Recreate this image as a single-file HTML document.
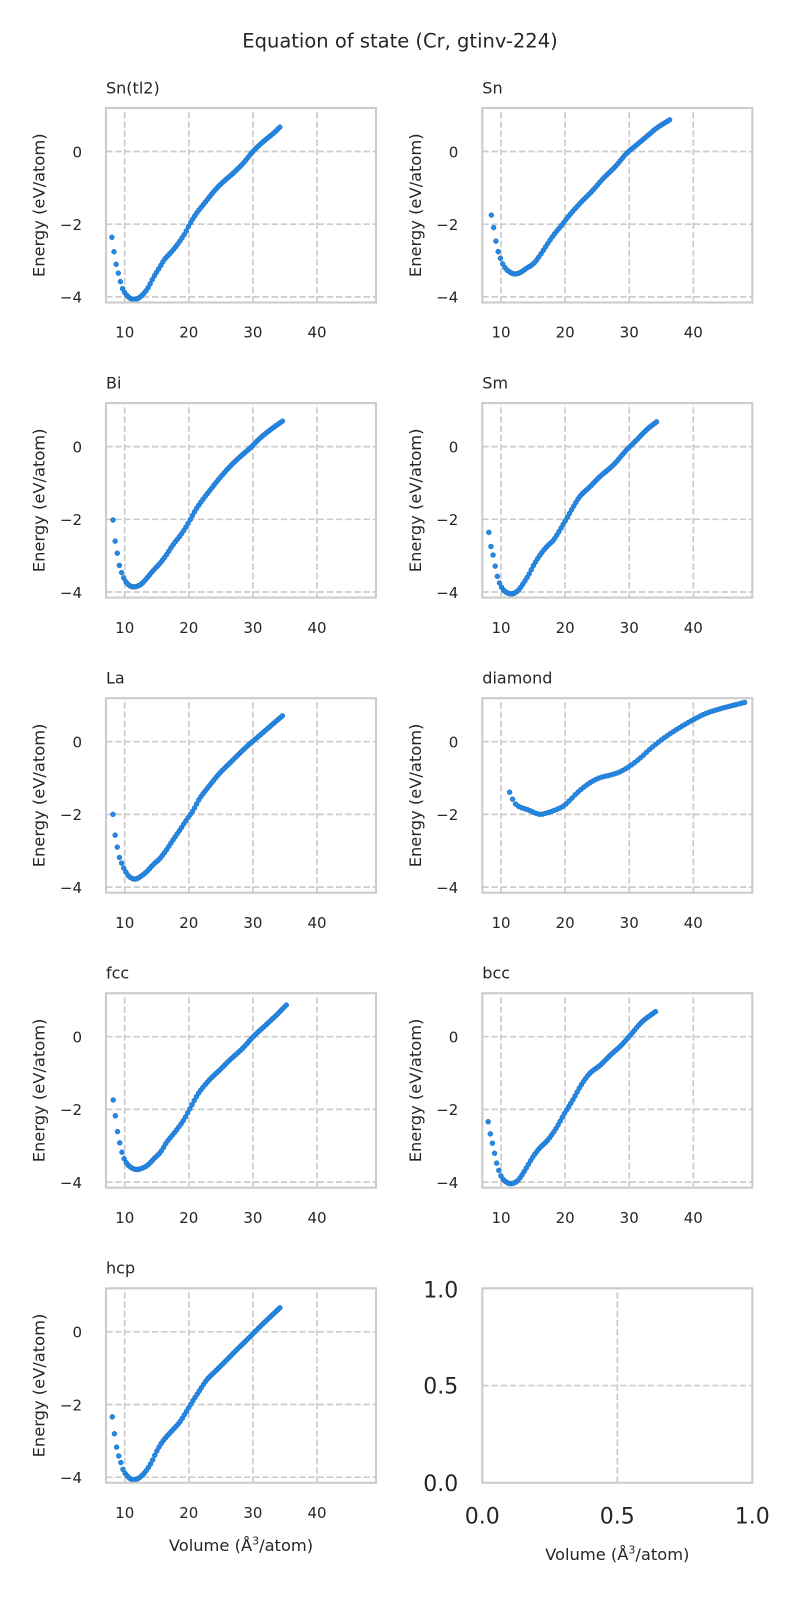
<!DOCTYPE html>
<html>
<head>
<meta charset="utf-8">
<style>
  html,body{margin:0;padding:0;background:#fff;}
  svg{display:block;}
  text{font-family:"DejaVu Sans","Liberation Sans",sans-serif;fill:#262626;}
  .grid line{stroke:#cccccc;stroke-width:1.7;stroke-dasharray:6.4 2.8;}
  .frame{fill:none;stroke:#cccccc;stroke-width:2.1;}
  .tk{font-size:15px;}
  .yl{font-size:16.3px;}
  .ttl{font-size:16px;}
  .pts circle{fill:#2389e8;stroke:#1a5ea6;stroke-width:0.4;}
</style>
</head>
<body>
<svg id="fig" width="800" height="1600" viewBox="0 0 800 1600" xmlns="http://www.w3.org/2000/svg">
<rect x="0" y="0" width="800" height="1600" fill="#ffffff"/>
<text x="400" y="47.5" font-size="19.5" text-anchor="middle">Equation of state (Cr, gtinv-224)</text>

<!-- Panel 0: Sn(tl2) -->
<g transform="translate(106,108)">
  <g class="grid">
    <line x1="18.72" y1="194.5" x2="18.72" y2="0"/><line x1="82.82" y1="194.5" x2="82.82" y2="0"/><line x1="146.93" y1="194.5" x2="146.93" y2="0"/><line x1="211.03" y1="194.5" x2="211.03" y2="0"/>
    <line x1="0" y1="43.5" x2="270" y2="43.5"/><line x1="0" y1="116.2" x2="270" y2="116.2"/><line x1="0" y1="188.9" x2="270" y2="188.9"/>
  </g>
  <g class="pts" id="p0"></g>
  <rect class="frame" x="0" y="0" width="270" height="194.5"/>
  <text class="ttl" x="0" y="-14.7">Sn(tl2)</text>
  <text class="tk" x="-24" y="49.3" text-anchor="end">0</text>
  <text class="tk" x="-24" y="122" text-anchor="end">−2</text>
  <text class="tk" x="-24" y="194.7" text-anchor="end">−4</text>
  <text class="tk" x="18.72" y="229.7" text-anchor="middle">10</text><text class="tk" x="82.82" y="229.7" text-anchor="middle">20</text><text class="tk" x="146.93" y="229.7" text-anchor="middle">30</text><text class="tk" x="211.03" y="229.7" text-anchor="middle">40</text>
  <text class="yl" transform="translate(-61.5,97.25) rotate(-90)" text-anchor="middle">Energy (eV/atom)</text>
</g>

<!-- Panel 1: Sn -->
<g transform="translate(482.3,108)">
  <g class="grid">
    <line x1="18.72" y1="194.5" x2="18.72" y2="0"/><line x1="82.82" y1="194.5" x2="82.82" y2="0"/><line x1="146.93" y1="194.5" x2="146.93" y2="0"/><line x1="211.03" y1="194.5" x2="211.03" y2="0"/>
    <line x1="0" y1="43.5" x2="270" y2="43.5"/><line x1="0" y1="116.2" x2="270" y2="116.2"/><line x1="0" y1="188.9" x2="270" y2="188.9"/>
  </g>
  <g class="pts" id="p1"></g>
  <rect class="frame" x="0" y="0" width="270" height="194.5"/>
  <text class="ttl" x="0" y="-14.7">Sn</text>
  <text class="tk" x="-24" y="49.3" text-anchor="end">0</text>
  <text class="tk" x="-24" y="122" text-anchor="end">−2</text>
  <text class="tk" x="-24" y="194.7" text-anchor="end">−4</text>
  <text class="tk" x="18.72" y="229.7" text-anchor="middle">10</text><text class="tk" x="82.82" y="229.7" text-anchor="middle">20</text><text class="tk" x="146.93" y="229.7" text-anchor="middle">30</text><text class="tk" x="211.03" y="229.7" text-anchor="middle">40</text>
  <text class="yl" transform="translate(-61.5,97.25) rotate(-90)" text-anchor="middle">Energy (eV/atom)</text>
</g>

<!-- Panel 2: Bi -->
<g transform="translate(106,403.1)">
  <g class="grid">
    <line x1="18.72" y1="194.5" x2="18.72" y2="0"/><line x1="82.82" y1="194.5" x2="82.82" y2="0"/><line x1="146.93" y1="194.5" x2="146.93" y2="0"/><line x1="211.03" y1="194.5" x2="211.03" y2="0"/>
    <line x1="0" y1="43.5" x2="270" y2="43.5"/><line x1="0" y1="116.2" x2="270" y2="116.2"/><line x1="0" y1="188.9" x2="270" y2="188.9"/>
  </g>
  <g class="pts" id="p2"></g>
  <rect class="frame" x="0" y="0" width="270" height="194.5"/>
  <text class="ttl" x="0" y="-14.7">Bi</text>
  <text class="tk" x="-24" y="49.3" text-anchor="end">0</text>
  <text class="tk" x="-24" y="122" text-anchor="end">−2</text>
  <text class="tk" x="-24" y="194.7" text-anchor="end">−4</text>
  <text class="tk" x="18.72" y="229.7" text-anchor="middle">10</text><text class="tk" x="82.82" y="229.7" text-anchor="middle">20</text><text class="tk" x="146.93" y="229.7" text-anchor="middle">30</text><text class="tk" x="211.03" y="229.7" text-anchor="middle">40</text>
  <text class="yl" transform="translate(-61.5,97.25) rotate(-90)" text-anchor="middle">Energy (eV/atom)</text>
</g>

<!-- Panel 3: Sm -->
<g transform="translate(482.3,403.1)">
  <g class="grid">
    <line x1="18.72" y1="194.5" x2="18.72" y2="0"/><line x1="82.82" y1="194.5" x2="82.82" y2="0"/><line x1="146.93" y1="194.5" x2="146.93" y2="0"/><line x1="211.03" y1="194.5" x2="211.03" y2="0"/>
    <line x1="0" y1="43.5" x2="270" y2="43.5"/><line x1="0" y1="116.2" x2="270" y2="116.2"/><line x1="0" y1="188.9" x2="270" y2="188.9"/>
  </g>
  <g class="pts" id="p3"></g>
  <rect class="frame" x="0" y="0" width="270" height="194.5"/>
  <text class="ttl" x="0" y="-14.7">Sm</text>
  <text class="tk" x="-24" y="49.3" text-anchor="end">0</text>
  <text class="tk" x="-24" y="122" text-anchor="end">−2</text>
  <text class="tk" x="-24" y="194.7" text-anchor="end">−4</text>
  <text class="tk" x="18.72" y="229.7" text-anchor="middle">10</text><text class="tk" x="82.82" y="229.7" text-anchor="middle">20</text><text class="tk" x="146.93" y="229.7" text-anchor="middle">30</text><text class="tk" x="211.03" y="229.7" text-anchor="middle">40</text>
  <text class="yl" transform="translate(-61.5,97.25) rotate(-90)" text-anchor="middle">Energy (eV/atom)</text>
</g>

<!-- Panel 4: La -->
<g transform="translate(106,698.2)">
  <g class="grid">
    <line x1="18.72" y1="194.5" x2="18.72" y2="0"/><line x1="82.82" y1="194.5" x2="82.82" y2="0"/><line x1="146.93" y1="194.5" x2="146.93" y2="0"/><line x1="211.03" y1="194.5" x2="211.03" y2="0"/>
    <line x1="0" y1="43.5" x2="270" y2="43.5"/><line x1="0" y1="116.2" x2="270" y2="116.2"/><line x1="0" y1="188.9" x2="270" y2="188.9"/>
  </g>
  <g class="pts" id="p4"></g>
  <rect class="frame" x="0" y="0" width="270" height="194.5"/>
  <text class="ttl" x="0" y="-14.7">La</text>
  <text class="tk" x="-24" y="49.3" text-anchor="end">0</text>
  <text class="tk" x="-24" y="122" text-anchor="end">−2</text>
  <text class="tk" x="-24" y="194.7" text-anchor="end">−4</text>
  <text class="tk" x="18.72" y="229.7" text-anchor="middle">10</text><text class="tk" x="82.82" y="229.7" text-anchor="middle">20</text><text class="tk" x="146.93" y="229.7" text-anchor="middle">30</text><text class="tk" x="211.03" y="229.7" text-anchor="middle">40</text>
  <text class="yl" transform="translate(-61.5,97.25) rotate(-90)" text-anchor="middle">Energy (eV/atom)</text>
</g>

<!-- Panel 5: diamond -->
<g transform="translate(482.3,698.2)">
  <g class="grid">
    <line x1="18.72" y1="194.5" x2="18.72" y2="0"/><line x1="82.82" y1="194.5" x2="82.82" y2="0"/><line x1="146.93" y1="194.5" x2="146.93" y2="0"/><line x1="211.03" y1="194.5" x2="211.03" y2="0"/>
    <line x1="0" y1="43.5" x2="270" y2="43.5"/><line x1="0" y1="116.2" x2="270" y2="116.2"/><line x1="0" y1="188.9" x2="270" y2="188.9"/>
  </g>
  <g class="pts" id="p5"></g>
  <rect class="frame" x="0" y="0" width="270" height="194.5"/>
  <text class="ttl" x="0" y="-14.7">diamond</text>
  <text class="tk" x="-24" y="49.3" text-anchor="end">0</text>
  <text class="tk" x="-24" y="122" text-anchor="end">−2</text>
  <text class="tk" x="-24" y="194.7" text-anchor="end">−4</text>
  <text class="tk" x="18.72" y="229.7" text-anchor="middle">10</text><text class="tk" x="82.82" y="229.7" text-anchor="middle">20</text><text class="tk" x="146.93" y="229.7" text-anchor="middle">30</text><text class="tk" x="211.03" y="229.7" text-anchor="middle">40</text>
  <text class="yl" transform="translate(-61.5,97.25) rotate(-90)" text-anchor="middle">Energy (eV/atom)</text>
</g>

<!-- Panel 6: fcc -->
<g transform="translate(106,993.2)">
  <g class="grid">
    <line x1="18.72" y1="194.5" x2="18.72" y2="0"/><line x1="82.82" y1="194.5" x2="82.82" y2="0"/><line x1="146.93" y1="194.5" x2="146.93" y2="0"/><line x1="211.03" y1="194.5" x2="211.03" y2="0"/>
    <line x1="0" y1="43.5" x2="270" y2="43.5"/><line x1="0" y1="116.2" x2="270" y2="116.2"/><line x1="0" y1="188.9" x2="270" y2="188.9"/>
  </g>
  <g class="pts" id="p6"></g>
  <rect class="frame" x="0" y="0" width="270" height="194.5"/>
  <text class="ttl" x="0" y="-14.7">fcc</text>
  <text class="tk" x="-24" y="49.3" text-anchor="end">0</text>
  <text class="tk" x="-24" y="122" text-anchor="end">−2</text>
  <text class="tk" x="-24" y="194.7" text-anchor="end">−4</text>
  <text class="tk" x="18.72" y="229.7" text-anchor="middle">10</text><text class="tk" x="82.82" y="229.7" text-anchor="middle">20</text><text class="tk" x="146.93" y="229.7" text-anchor="middle">30</text><text class="tk" x="211.03" y="229.7" text-anchor="middle">40</text>
  <text class="yl" transform="translate(-61.5,97.25) rotate(-90)" text-anchor="middle">Energy (eV/atom)</text>
</g>

<!-- Panel 7: bcc -->
<g transform="translate(482.3,993.2)">
  <g class="grid">
    <line x1="18.72" y1="194.5" x2="18.72" y2="0"/><line x1="82.82" y1="194.5" x2="82.82" y2="0"/><line x1="146.93" y1="194.5" x2="146.93" y2="0"/><line x1="211.03" y1="194.5" x2="211.03" y2="0"/>
    <line x1="0" y1="43.5" x2="270" y2="43.5"/><line x1="0" y1="116.2" x2="270" y2="116.2"/><line x1="0" y1="188.9" x2="270" y2="188.9"/>
  </g>
  <g class="pts" id="p7"></g>
  <rect class="frame" x="0" y="0" width="270" height="194.5"/>
  <text class="ttl" x="0" y="-14.7">bcc</text>
  <text class="tk" x="-24" y="49.3" text-anchor="end">0</text>
  <text class="tk" x="-24" y="122" text-anchor="end">−2</text>
  <text class="tk" x="-24" y="194.7" text-anchor="end">−4</text>
  <text class="tk" x="18.72" y="229.7" text-anchor="middle">10</text><text class="tk" x="82.82" y="229.7" text-anchor="middle">20</text><text class="tk" x="146.93" y="229.7" text-anchor="middle">30</text><text class="tk" x="211.03" y="229.7" text-anchor="middle">40</text>
  <text class="yl" transform="translate(-61.5,97.25) rotate(-90)" text-anchor="middle">Energy (eV/atom)</text>
</g>

<!-- Panel 8: hcp -->
<g transform="translate(106,1288.3)">
  <g class="grid">
    <line x1="18.72" y1="194.5" x2="18.72" y2="0"/><line x1="82.82" y1="194.5" x2="82.82" y2="0"/><line x1="146.93" y1="194.5" x2="146.93" y2="0"/><line x1="211.03" y1="194.5" x2="211.03" y2="0"/>
    <line x1="0" y1="43.5" x2="270" y2="43.5"/><line x1="0" y1="116.2" x2="270" y2="116.2"/><line x1="0" y1="188.9" x2="270" y2="188.9"/>
  </g>
  <g class="pts" id="p8"></g>
  <rect class="frame" x="0" y="0" width="270" height="194.5"/>
  <text class="ttl" x="0" y="-14.7">hcp</text>
  <text class="tk" x="-24" y="49.3" text-anchor="end">0</text>
  <text class="tk" x="-24" y="122" text-anchor="end">−2</text>
  <text class="tk" x="-24" y="194.7" text-anchor="end">−4</text>
  <text class="tk" x="18.72" y="229.7" text-anchor="middle">10</text><text class="tk" x="82.82" y="229.7" text-anchor="middle">20</text><text class="tk" x="146.93" y="229.7" text-anchor="middle">30</text><text class="tk" x="211.03" y="229.7" text-anchor="middle">40</text>
  <text class="yl" transform="translate(-61.5,97.25) rotate(-90)" text-anchor="middle">Energy (eV/atom)</text>
  <text class="yl" x="135" y="262.7" text-anchor="middle">Volume (Å<tspan dy="-6.5" font-size="11">3</tspan><tspan dy="6.5">/atom)</tspan></text>
</g>

<!-- Panel 9: empty -->
<g transform="translate(482.3,1288.3)">
  <g class="grid">
    <line x1="135" y1="194.5" x2="135" y2="0"/>
    <line x1="0" y1="97.25" x2="270" y2="97.25"/>
  </g>
  <rect class="frame" x="0" y="0" width="270" height="194.5"/>
  <text x="-24" y="9" font-size="22" text-anchor="end">1.0</text>
  <text x="-24" y="105.25" font-size="22" text-anchor="end">0.5</text>
  <text x="-24" y="202.5" font-size="22" text-anchor="end">0.0</text>
  <text x="0" y="235.2" font-size="22" text-anchor="middle">0.0</text>
  <text x="135" y="235.2" font-size="22" text-anchor="middle">0.5</text>
  <text x="270" y="235.2" font-size="22" text-anchor="middle">1.0</text>
  <text class="yl" x="135" y="271.7" text-anchor="middle">Volume (Å<tspan dy="-6.5" font-size="11">3</tspan><tspan dy="6.5">/atom)</tspan></text>
</g>
</svg>

<script>
(function(){
  var D = [
    [[8.0,-2.36],[8.3,-2.72],[8.6,-3.05],[9.0,-3.35],[9.36,-3.6],[9.7,-3.79],[10.2,-3.93],[10.7,-4.02],[11.3,-4.07],[12.1,-4.04],[12.9,-3.92],[13.6,-3.76],[14.5,-3.46],[15.5,-3.17],[16.25,-2.96],[17.3,-2.76],[18.3,-2.54],[19.4,-2.25],[20.2,-1.98],[21.2,-1.70],[22.5,-1.41],[24.1,-1.06],[25.4,-0.83],[26.9,-0.6],[28.5,-0.32],[30.0,0.0],[31.6,0.27],[33.2,0.5],[34.2,0.67]],
    [[8.5,-1.75],[8.96,-2.2],[9.27,-2.53],[9.63,-2.80],[10.05,-3.0],[10.4,-3.14],[10.93,-3.26],[11.7,-3.35],[12.2,-3.37],[13.0,-3.33],[14.0,-3.21],[15.1,-3.08],[16.1,-2.85],[17.15,-2.57],[18.2,-2.30],[19.5,-2.02],[20.5,-1.79],[22.3,-1.43],[24.15,-1.10],[25.96,-0.74],[27.8,-0.42],[29.6,-0.05],[31.15,0.18],[32.7,0.41],[34.26,0.64],[36.3,0.87]],
    [[8.17,-2.02],[8.44,-2.52],[8.8,-2.89],[9.1,-3.21],[9.42,-3.42],[9.84,-3.61],[10.36,-3.76],[11.05,-3.85],[11.8,-3.85],[12.6,-3.78],[13.4,-3.63],[14.4,-3.42],[15.5,-3.21],[16.5,-2.98],[17.5,-2.71],[18.9,-2.39],[19.9,-2.11],[20.9,-1.79],[22.0,-1.50],[23.3,-1.20],[24.8,-0.87],[26.4,-0.55],[28.0,-0.28],[29.5,-0.05],[31.1,0.23],[32.7,0.46],[34.6,0.70]],
    [[8.1,-2.36],[8.4,-2.72],[8.85,-3.05],[9.16,-3.35],[9.47,-3.60],[9.9,-3.81],[10.4,-3.95],[11.2,-4.04],[11.96,-4.04],[12.7,-3.95],[13.5,-3.76],[14.3,-3.53],[15.1,-3.26],[16.1,-2.98],[17.15,-2.75],[18.2,-2.57],[19.2,-2.29],[20.25,-1.97],[21.3,-1.65],[22.3,-1.37],[23.9,-1.10],[25.4,-0.83],[27.5,-0.51],[29.6,-0.09],[31.15,0.18],[32.7,0.46],[34.26,0.68]],
    [[8.17,-2.0],[8.44,-2.49],[8.8,-2.86],[9.1,-3.14],[9.53,-3.35],[10.0,-3.53],[10.7,-3.71],[11.56,-3.78],[12.3,-3.73],[13.4,-3.58],[14.4,-3.39],[15.5,-3.21],[16.5,-2.98],[17.5,-2.71],[18.6,-2.43],[19.6,-2.16],[20.7,-1.88],[21.7,-1.56],[23.3,-1.19],[24.8,-0.87],[26.9,-0.50],[29.0,-0.14],[31.1,0.18],[33.2,0.50],[34.6,0.71]],
    [[11.34,-1.39],[11.8,-1.58],[12.3,-1.72],[13.0,-1.80],[14.3,-1.88],[15.33,-1.96],[16.1,-2.0],[17.15,-1.96],[18.45,-1.88],[19.74,-1.77],[20.8,-1.60],[21.8,-1.42],[22.85,-1.26],[24.15,-1.10],[25.44,-0.99],[27.0,-0.92],[28.55,-0.83],[30.1,-0.67],[31.66,-0.46],[33.2,-0.21],[34.8,0.02],[36.3,0.21],[37.9,0.39],[39.95,0.60],[42.0,0.78],[44.1,0.90],[46.2,1.00],[48.0,1.08]],
    [[8.2,-1.74],[8.6,-2.25],[8.9,-2.63],[9.25,-2.94],[9.57,-3.18],[10.0,-3.39],[10.7,-3.56],[11.7,-3.65],[12.7,-3.62],[13.6,-3.53],[14.6,-3.35],[15.6,-3.17],[16.6,-2.89],[17.9,-2.61],[19.2,-2.29],[20.2,-1.97],[21.5,-1.56],[23.2,-1.19],[24.8,-0.92],[26.4,-0.64],[28.4,-0.32],[30.05,0.0],[32.0,0.32],[33.7,0.60],[35.2,0.87]],
    [[8.0,-2.34],[8.37,-2.71],[8.82,-3.05],[9.15,-3.35],[9.48,-3.58],[9.93,-3.81],[10.46,-3.95],[11.4,-4.04],[12.4,-3.99],[13.1,-3.85],[14.05,-3.58],[15.0,-3.30],[16.0,-3.07],[17.3,-2.84],[18.6,-2.52],[19.9,-2.11],[21.2,-1.74],[22.5,-1.33],[23.85,-1.01],[25.5,-0.78],[27.1,-0.50],[28.8,-0.23],[30.4,0.09],[32.0,0.41],[34.1,0.69]],
    [[8.07,-2.34],[8.33,-2.71],[8.6,-3.05],[8.96,-3.35],[9.4,-3.6],[9.74,-3.79],[10.26,-3.94],[11.04,-4.06],[11.8,-4.06],[12.6,-3.97],[13.4,-3.81],[14.2,-3.58],[14.95,-3.30],[15.7,-3.07],[16.5,-2.89],[17.55,-2.69],[18.6,-2.48],[19.6,-2.20],[20.7,-1.88],[21.7,-1.61],[22.76,-1.33],[24.06,-1.10],[25.6,-0.83],[27.45,-0.50],[29.3,-0.18],[31.1,0.14],[32.7,0.41],[34.2,0.66]]
  ];
  function tangents(p){
    var n=p.length, m=[];
    for(var i=0;i<n;i++){
      if(i===0) m.push((p[1][1]-p[0][1])/(p[1][0]-p[0][0]));
      else if(i===n-1) m.push((p[n-1][1]-p[n-2][1])/(p[n-1][0]-p[n-2][0]));
      else m.push((p[i+1][1]-p[i-1][1])/(p[i+1][0]-p[i-1][0]));
    }
    return m;
  }
  function interp(p,m,x){
    var n=p.length, i=0;
    while(i<n-2 && x>p[i+1][0]) i++;
    var x0=p[i][0], x1=p[i+1][0], h=x1-x0, t=(x-x0)/h;
    if(t<0)t=0; if(t>1)t=1;
    var t2=t*t, t3=t2*t;
    var h00=2*t3-3*t2+1, h10=t3-2*t2+t, h01=-2*t3+3*t2, h11=t3-t2;
    return h00*p[i][1]+h10*h*m[i]+h01*p[i+1][1]+h11*h*m[i+1];
  }
  var NS="http://www.w3.org/2000/svg";
  var xa=7.08, sx=270/42.12, yt=1.197, sy=36.35, N=80;
  for(var k=0;k<D.length;k++){
    var p=D[k], m=tangents(p), g=document.getElementById('p'+k);
    var xs=p[0][0], xe=p[p.length-1][0];
    for(var j=0;j<N;j++){
      var x=xs+(xe-xs)*j/(N-1), y=interp(p,m,x);
      var c=document.createElementNS(NS,'circle');
      c.setAttribute('cx',((x-xa)*sx).toFixed(2));
      c.setAttribute('cy',((yt-y)*sy).toFixed(2));
      c.setAttribute('r','2.5');
      g.appendChild(c);
    }
  }
})();
</script>
</body>
</html>
